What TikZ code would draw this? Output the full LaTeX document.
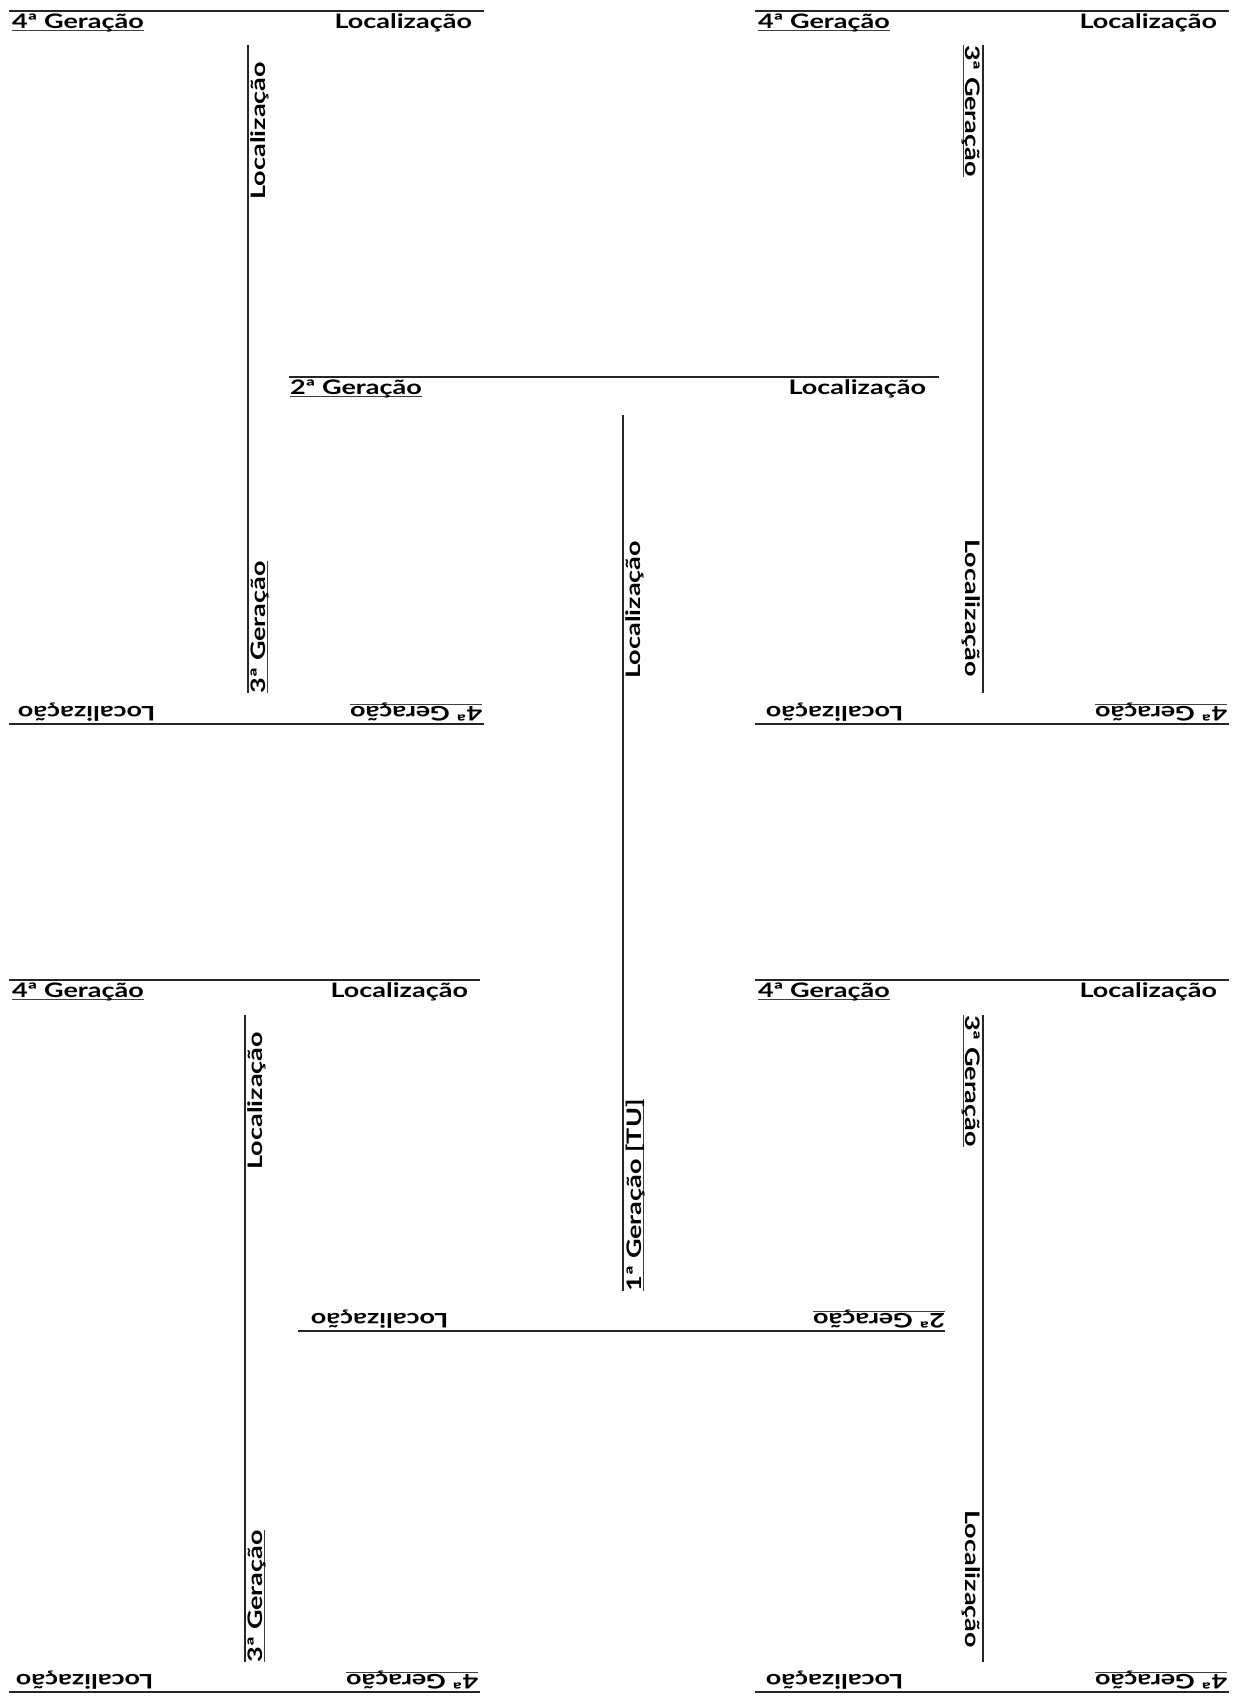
\documentclass[tikz,border=0pt]{standalone}
\usepackage{fontspec}
\newfontfamily\lblfont{Lato}[FakeStretch=1.35]
\tikzset{
  seg/.style={line width=1pt, draw=black!85},
  lbl/.style={inner sep=0pt, outer sep=0pt, text=black,
    font=\lblfont\bfseries\fontsize{10}{12}\selectfont},
  gen/.style={lbl},
  loc/.style={lbl}
}
\newcommand\genul[1]{\setbox0\hbox{#1}\rlap{\color{black!75}\rule[-1.4pt]{\wd0}{0.6pt}}\box0}
\begin{document}
\begin{tikzpicture}[x=0.5pt,y=-0.5pt]
\useasboundingbox (0,0) rectangle (1240,1698);

% ---------- 1st generation (central vertical)
\coordinate (s1a) at (623,1291); \coordinate (s1b) at (623,415);
\draw[seg] (s1a) -- (s1b);
\node[gen,rotate=90,anchor=north west] (g1) at (626,1291) {\genul{1ª Geração [TU]}};
\node[loc,rotate=90,anchor=north east] (l1) at (626,541) {Localização};

% ---------- 2nd generation
\coordinate (s2ta) at (289,377); \coordinate (s2tb) at (939,377);
\draw[seg] (s2ta) -- (s2tb);
\node[gen,anchor=north west] (g2t) at (290,380) {\genul{2ª Geração}};
\node[loc,anchor=north east] (l2t) at (926,380) {Localização};

\coordinate (s2ba) at (945,1331); \coordinate (s2bb) at (298,1331);
\draw[seg] (s2ba) -- (s2bb);
\node[gen,rotate=180,anchor=north west] (g2b) at (945,1328) {\genul{2ª Geração}};
\node[loc,rotate=180,anchor=north east] (l2b) at (311,1328) {Localização};

% ---------- 3rd generation
\coordinate (s3a1) at (248,693); \coordinate (s3a2) at (248,45);
\draw[seg] (s3a1) -- (s3a2);
\node[gen,rotate=90,anchor=north west] (g3a) at (251,693) {\genul{3ª Geração}};
\node[loc,rotate=90,anchor=north east] (l3a) at (251,62) {Localização};

\coordinate (s3b1) at (983,45); \coordinate (s3b2) at (983,693);
\draw[seg] (s3b1) -- (s3b2);
\node[gen,rotate=-90,anchor=north west] (g3b) at (980,45) {\genul{3ª Geração}};
\node[loc,rotate=-90,anchor=north east] (l3b) at (980,677) {Localização};

\coordinate (s3c1) at (245,1662); \coordinate (s3c2) at (245,1015);
\draw[seg] (s3c1) -- (s3c2);
\node[gen,rotate=90,anchor=north west] (g3c) at (248,1662) {\genul{3ª Geração}};
\node[loc,rotate=90,anchor=north east] (l3c) at (248,1032) {Localização};

\coordinate (s3d1) at (983,1015); \coordinate (s3d2) at (983,1662);
\draw[seg] (s3d1) -- (s3d2);
\node[gen,rotate=-90,anchor=north west] (g3d) at (980,1015) {\genul{3ª Geração}};
\node[loc,rotate=-90,anchor=north east] (l3d) at (980,1648) {Localização};

% ---------- 4th generation
% top-left H
\coordinate (s4a1) at (9,11); \coordinate (s4a2) at (484,11);
\draw[seg] (s4a1) -- (s4a2);
\node[gen,anchor=north west] (g4a) at (12,14) {\genul{4ª Geração}};
\node[loc,anchor=north east] (l4a) at (472,14) {Localização};

\coordinate (s4b1) at (484,724); \coordinate (s4b2) at (9,724);
\draw[seg] (s4b1) -- (s4b2);
\node[gen,rotate=180,anchor=north west] (g4b) at (482,721) {\genul{4ª Geração}};
\node[loc,rotate=180,anchor=north east] (l4b) at (18,721) {Localização};

% top-right H
\coordinate (s4c1) at (755,11); \coordinate (s4c2) at (1229,11);
\draw[seg] (s4c1) -- (s4c2);
\node[gen,anchor=north west] (g4c) at (758,14) {\genul{4ª Geração}};
\node[loc,anchor=north east] (l4c) at (1217,14) {Localização};

\coordinate (s4d1) at (1229,724); \coordinate (s4d2) at (755,724);
\draw[seg] (s4d1) -- (s4d2);
\node[gen,rotate=180,anchor=north west] (g4d) at (1227,721) {\genul{4ª Geração}};
\node[loc,rotate=180,anchor=north east] (l4d) at (766,721) {Localização};

% bottom-left H
\coordinate (s4e1) at (9,980); \coordinate (s4e2) at (480,980);
\draw[seg] (s4e1) -- (s4e2);
\node[gen,anchor=north west] (g4e) at (12,983) {\genul{4ª Geração}};
\node[loc,anchor=north east] (l4e) at (468,983) {Localização};

\coordinate (s4f1) at (480,1692); \coordinate (s4f2) at (9,1692);
\draw[seg] (s4f1) -- (s4f2);
\node[gen,rotate=180,anchor=north west] (g4f) at (478,1689) {\genul{4ª Geração}};
\node[loc,rotate=180,anchor=north east] (l4f) at (16,1689) {Localização};

% bottom-right H
\coordinate (s4g1) at (755,980); \coordinate (s4g2) at (1229,980);
\draw[seg] (s4g1) -- (s4g2);
\node[gen,anchor=north west] (g4g) at (758,983) {\genul{4ª Geração}};
\node[loc,anchor=north east] (l4g) at (1217,983) {Localização};

\coordinate (s4h1) at (1229,1692); \coordinate (s4h2) at (755,1692);
\draw[seg] (s4h1) -- (s4h2);
\node[gen,rotate=180,anchor=north west] (g4h) at (1227,1689) {\genul{4ª Geração}};
\node[loc,rotate=180,anchor=north east] (l4h) at (766,1689) {Localização};
\end{tikzpicture}
\end{document}
